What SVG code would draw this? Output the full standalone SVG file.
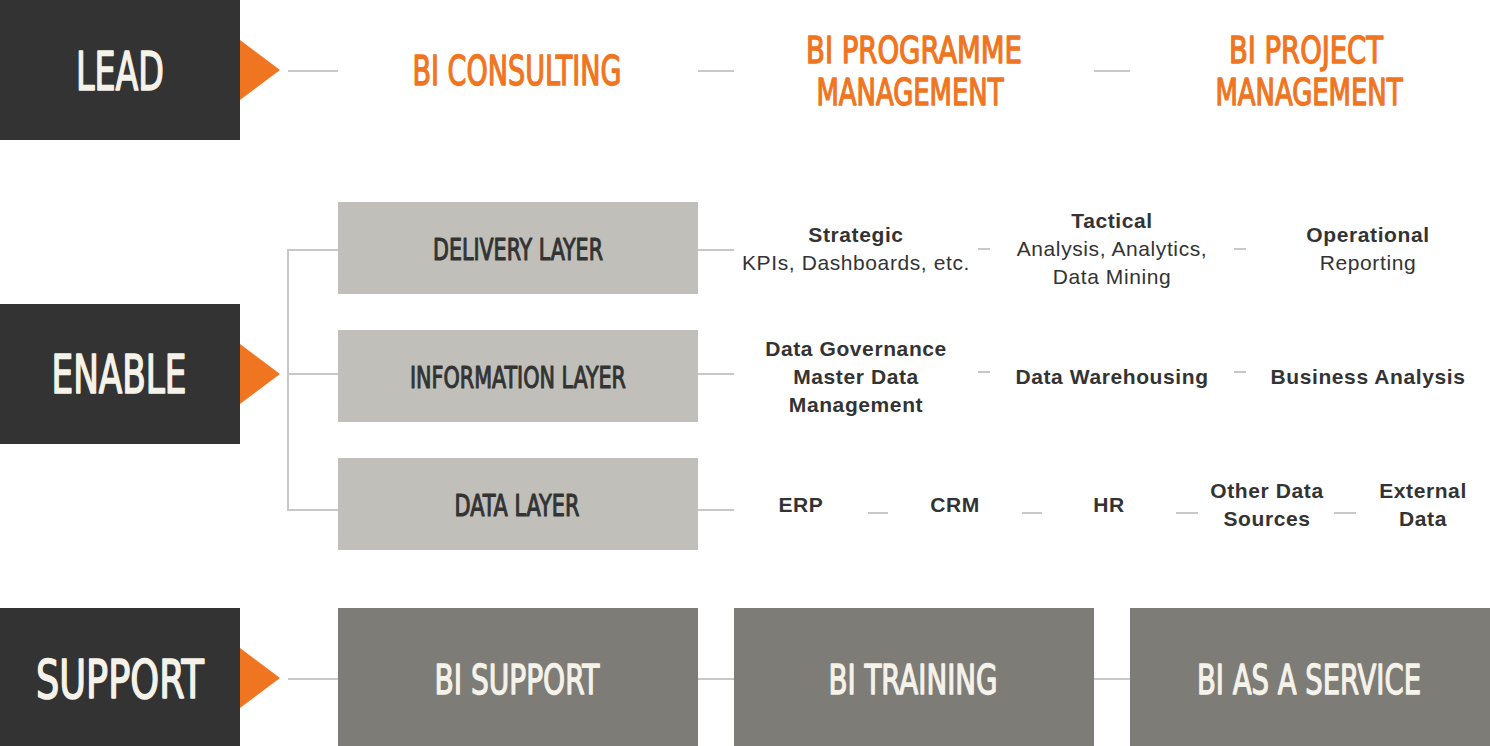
<svg xmlns="http://www.w3.org/2000/svg" width="1490" height="746" viewBox="0 0 1490 746">
<style>
.dark{fill:#333333}
.layer{fill:#c0bfba}
.svc{fill:#7e7c77}
.tri{fill:#f07521}
.hd{font-family:"Liberation Sans Narrow","DejaVu Sans Condensed","Liberation Sans",sans-serif;text-anchor:middle;stroke-linejoin:round}
.big{font-size:54px;fill:#f5f2ea;stroke:#f5f2ea;stroke-width:1.6px}
.or{font-size:40px;fill:#f07521;stroke:#f07521;stroke-width:1.3px}
.or2{font-size:37px;fill:#f07521;stroke:#f07521;stroke-width:1.3px}
.lay{font-size:31px;fill:#333333;stroke:#333333;stroke-width:1.1px}
.sv{font-size:40px;fill:#f5f2ea;stroke:#f5f2ea;stroke-width:1.3px}
.tx{font-family:"Liberation Sans",Arial,sans-serif;font-size:21px;letter-spacing:0.6px;fill:#333333;text-anchor:middle}
.b{font-weight:bold}
.ln{stroke:#c8c8c8;stroke-width:2;fill:none}
</style>
<g id="connectors">
<line class="ln" x1="288" y1="71" x2="338" y2="71"/>
<line class="ln" x1="698" y1="71" x2="734" y2="71"/>
<line class="ln" x1="1094" y1="71" x2="1130" y2="71"/>
<polyline class="ln" points="338,250 288,250 288,510 338,510"/>
<line class="ln" x1="288" y1="374" x2="338" y2="374"/>
<line class="ln" x1="698" y1="250" x2="734" y2="250"/>
<line class="ln" x1="978" y1="249" x2="990" y2="249"/>
<line class="ln" x1="1234" y1="249" x2="1246" y2="249"/>
<line class="ln" x1="698" y1="374" x2="734" y2="374"/>
<line class="ln" x1="978" y1="372" x2="990" y2="372"/>
<line class="ln" x1="1234" y1="372" x2="1246" y2="372"/>
<line class="ln" x1="698" y1="510" x2="734" y2="510"/>
<line class="ln" x1="868" y1="513" x2="888" y2="513"/>
<line class="ln" x1="1022" y1="513" x2="1042" y2="513"/>
<line class="ln" x1="1176" y1="513" x2="1198" y2="513"/>
<line class="ln" x1="1334" y1="513" x2="1356" y2="513"/>
<line class="ln" x1="288" y1="679" x2="338" y2="679"/>
<line class="ln" x1="698" y1="679" x2="734" y2="679"/>
<line class="ln" x1="1094" y1="679" x2="1130" y2="679"/>
</g>
<g id="lead">
<rect class="dark" x="0" y="0" width="240" height="140"/>
<polygon class="tri" points="240,40 280,70 240,100"/>
<text class="hd big" x="120" y="90" textLength="88" lengthAdjust="spacingAndGlyphs">LEAD</text>
</g>
<g id="bi-consulting">
<text class="hd or" x="517" y="85" textLength="209" lengthAdjust="spacingAndGlyphs">BI CONSULTING</text>
</g>
<g id="bi-programme">
<text class="hd or2" x="914" y="63" textLength="216" lengthAdjust="spacingAndGlyphs">BI PROGRAMME</text>
<text class="hd or2" x="910" y="105" textLength="187" lengthAdjust="spacingAndGlyphs">MANAGEMENT</text>
</g>
<g id="bi-project">
<text class="hd or2" x="1306" y="63" textLength="154" lengthAdjust="spacingAndGlyphs">BI PROJECT</text>
<text class="hd or2" x="1309" y="105" textLength="187" lengthAdjust="spacingAndGlyphs">MANAGEMENT</text>
</g>
<g id="enable">
<rect class="dark" x="0" y="304" width="240" height="140"/>
<polygon class="tri" points="240,344 280,374 240,404"/>
<text class="hd big" x="119" y="393" textLength="135" lengthAdjust="spacingAndGlyphs">ENABLE</text>
</g>
<g id="delivery-layer">
<rect class="layer" x="338" y="202" width="360" height="92"/>
<text class="hd lay" x="518" y="260" textLength="170" lengthAdjust="spacingAndGlyphs">DELIVERY LAYER</text>
</g>
<g id="information-layer">
<rect class="layer" x="338" y="330" width="360" height="92"/>
<text class="hd lay" x="518" y="388" textLength="216" lengthAdjust="spacingAndGlyphs">INFORMATION LAYER</text>
</g>
<g id="data-layer">
<rect class="layer" x="338" y="458" width="360" height="92"/>
<text class="hd lay" x="517" y="516" textLength="125" lengthAdjust="spacingAndGlyphs">DATA LAYER</text>
</g>
<g id="strategic">
<text class="tx b" x="856" y="242">Strategic</text>
<text class="tx" x="856" y="270">KPIs, Dashboards, etc.</text>
</g>
<g id="tactical">
<text class="tx b" x="1112" y="228">Tactical</text>
<text class="tx" x="1112" y="256">Analysis, Analytics,</text>
<text class="tx" x="1112" y="284">Data Mining</text>
</g>
<g id="operational">
<text class="tx b" x="1368" y="242">Operational</text>
<text class="tx" x="1368" y="270">Reporting</text>
</g>
<g id="data-governance">
<text class="tx b" x="856" y="356">Data Governance</text>
<text class="tx b" x="856" y="384">Master Data</text>
<text class="tx b" x="856" y="412">Management</text>
</g>
<g id="data-warehousing">
<text class="tx b" x="1112" y="384">Data Warehousing</text>
</g>
<g id="business-analysis">
<text class="tx b" x="1368" y="384">Business Analysis</text>
</g>
<g id="erp"><text class="tx b" x="801" y="512">ERP</text></g>
<g id="crm"><text class="tx b" x="955" y="512">CRM</text></g>
<g id="hr"><text class="tx b" x="1109" y="512">HR</text></g>
<g id="other-data-sources">
<text class="tx b" x="1267" y="498">Other Data</text>
<text class="tx b" x="1267" y="526">Sources</text>
</g>
<g id="external-data">
<text class="tx b" x="1423" y="498">External</text>
<text class="tx b" x="1423" y="526">Data</text>
</g>
<g id="support">
<rect class="dark" x="0" y="608" width="240" height="138"/>
<polygon class="tri" points="240,648 280,678 240,708"/>
<text class="hd big" x="120" y="698" textLength="168" lengthAdjust="spacingAndGlyphs">SUPPORT</text>
</g>
<g id="bi-support">
<rect class="svc" x="338" y="608" width="360" height="138"/>
<text class="hd sv" x="517" y="694" textLength="165" lengthAdjust="spacingAndGlyphs">BI SUPPORT</text>
</g>
<g id="bi-training">
<rect class="svc" x="734" y="608" width="360" height="138"/>
<text class="hd sv" x="913" y="694" textLength="169" lengthAdjust="spacingAndGlyphs">BI TRAINING</text>
</g>
<g id="bi-as-a-service">
<rect class="svc" x="1130" y="608" width="360" height="138"/>
<text class="hd sv" x="1309" y="694" textLength="224" lengthAdjust="spacingAndGlyphs">BI AS A SERVICE</text>
</g>
</svg>
